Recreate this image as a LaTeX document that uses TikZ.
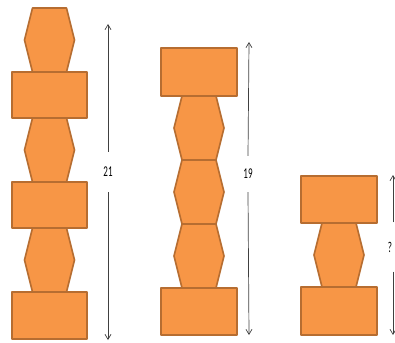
\documentclass[tikz,border=0pt]{standalone}
\usepackage{fontspec}
\setmainfont{Carlito}
\usetikzlibrary{arrows.meta}

\definecolor{blockfill}{HTML}{F79646}
\definecolor{blockline}{HTML}{B66D31}
\definecolor{rulergray}{HTML}{404040}

\tikzset{
  block/.style={fill=blockfill, draw=blockline, line width=1.6pt, line join=round},
  ruler/.style={draw=rulergray, line width=0.7pt, -{Straight Barb[length=5pt,width=6pt]}},
  height/.style={font=\fontsize{15}{15}\selectfont, xscale=0.6, inner sep=0pt, minimum height=#1},
  hexa/.pic={\path[block] (-17,0) -- (17,0) -- (25,32) -- (17,64) -- (-17,64) -- (-25,32) -- cycle;}
}

\begin{document}
\begin{tikzpicture}[x=1pt, y=-1pt]
\useasboundingbox (0,0) rectangle (395,342);

% left stack
\pic at (49.5,8) {hexa};
\pic at (49.5,118) {hexa};
\pic at (49.5,228) {hexa};
\draw[block] (12,72) rectangle (87,118);
\draw[block] (12,182) rectangle (87,228);
\draw[block] (12,292) rectangle (87,339);

% middle stack
\pic at (199,96) {hexa};
\pic at (199,160) {hexa};
\pic at (199,224) {hexa};
\draw[block] (161,48) rectangle (237,96);
\draw[block] (161,288) rectangle (237,335);

% right stack
\pic at (339,223) {hexa};
\draw[block] (301,176) rectangle (377,223);
\draw[block] (301,287) rectangle (377,335);

% heights
\coordinate (topA) at (108,24);
\coordinate (botA) at (108,340);
\node[height=40pt] (lblA) at (108,172) {21};
\draw[ruler] (lblA.north) -- (topA);
\draw[ruler] (lblA.south) -- (botA);

\coordinate (topB) at (249,42);
\coordinate (botB) at (249,335);
\node[height=36pt] (lblB) at (248,174) {19};
\draw[ruler] (lblB.north) -- (topB);
\draw[ruler] (lblB.south) -- (botB);

\coordinate (topC) at (393,175);
\coordinate (botC) at (393,335);
\node[height=49pt] (lblC) at (390,247) {?};
\draw[ruler] (lblC.north -| topC) -- (topC);
\draw[ruler] (lblC.south -| botC) -- (botC);

\end{tikzpicture}
\end{document}
